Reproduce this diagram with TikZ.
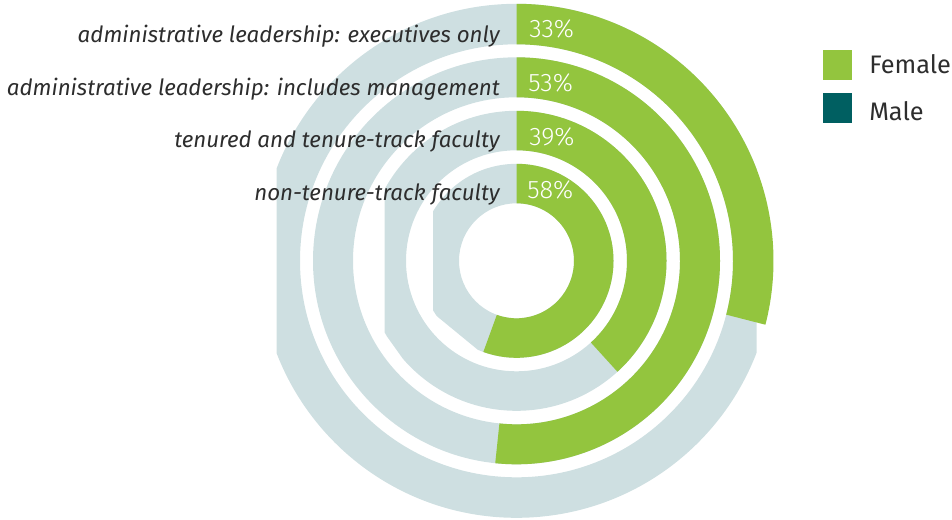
\documentclass[tikz,border=0pt]{standalone}
\usepackage{fontspec}
\setmainfont{Fira Sans}
\newfontfamily\pctfont[UprightFont=*-Light]{FiraSans}
\definecolor{femalegreen}{RGB}{147,197,62}
\definecolor{malegray}{RGB}{206,223,225}
\definecolor{maleteal}{RGB}{0,95,97}
\definecolor{labelgray}{RGB}{45,45,45}

\begin{document}
\begin{tikzpicture}[x=0.75pt,y=-0.75pt,line join=round,
    ring label/.style={anchor=base east,inner sep=0pt,text=labelgray,font=\fontsize{16.75}{18}\selectfont\itshape},
    pct label/.style={anchor=base west,inner sep=0pt,text=white,font=\pctfont\fontsize{19}{20}\selectfont},
    legend key/.style={minimum size=22.2pt,inner sep=0pt},
    legend text/.style={anchor=base west,inner sep=0pt,text=labelgray,font=\fontsize{19}{20}\selectfont}]
    \useasboundingbox (0,0) rectangle (952,519);
    \coordinate (c) at (516.5,260.8);
    % grey rings (the remainder)
    \begin{scope}
        \clip (276.5,0) rectangle (756.5,519);
        \fill[malegray,even odd rule] (c) circle (257) (c) circle (216.5);
    \end{scope}
    \fill[malegray,even odd rule] (c) circle (203.5) (c) circle (163.5);
    \begin{scope}
        \clip (384.5,0) -- (900,0) -- (900,519) -- (475.5,460.5) -- (384.5,333) -- cycle;
        \fill[malegray,even odd rule] (c) circle (150) (c) circle (110.5);
    \end{scope}
    \begin{scope}
        \clip (433,0) -- (900,0) -- (900,519) -- (553,411.5) -- (433,313) -- cycle;
        \fill[malegray,even odd rule] (c) circle (97) (c) circle (57.5);
    \end{scope}
    % green arcs, clockwise from the top
    \begin{scope}[shift={(516.5,260.8)}]
        \fill[femalegreen] (-90:257) arc[start angle=-90,end angle=14.4,radius=257] -- (14.4:216.5) arc[start angle=14.4,end angle=-90,radius=216.5] -- cycle;
        \fill[femalegreen] (-90:203.5) arc[start angle=-90,end angle=96,radius=203.5] -- (96:163.5) arc[start angle=96,end angle=-90,radius=163.5] -- cycle;
        \fill[femalegreen] (-90:150) arc[start angle=-90,end angle=47.7,radius=150] -- (47.7:110.5) arc[start angle=47.7,end angle=-90,radius=110.5] -- cycle;
        \fill[femalegreen] (-90:97) arc[start angle=-90,end angle=110,radius=97] -- (110:57.5) arc[start angle=110,end angle=-90,radius=57.5] -- cycle;
    \end{scope}
    % ring labels
    \node[ring label] (lbl-exec) at (500,42) {administrative leadership: executives only};
    \node[ring label] (lbl-mgmt) at (500,95) {administrative leadership: includes management};
    \node[ring label] (lbl-tenured) at (500,147.5) {tenured and tenure-track faculty};
    \node[ring label] (lbl-nontenure) at (500,200.5) {non-tenure-track faculty};
    \node[pct label] (pct-exec) at (529,37) {33\%};
    \node[pct label] (pct-mgmt) at (528,91) {53\%};
    \node[pct label] (pct-tenured) at (529,145) {39\%};
    \node[pct label] (pct-nontenure) at (527,198.5) {58\%};
    % legend
    \node[legend key,fill=femalegreen] (key-female) at (837.5,64.7) {};
    \node[legend key,fill=maleteal] (key-male) at (837.5,108) {};
    \node[legend text] (txt-female) at (869,73.3) {Female};
    \node[legend text] (txt-male) at (869,120) {Male};
\end{tikzpicture}
\end{document}
